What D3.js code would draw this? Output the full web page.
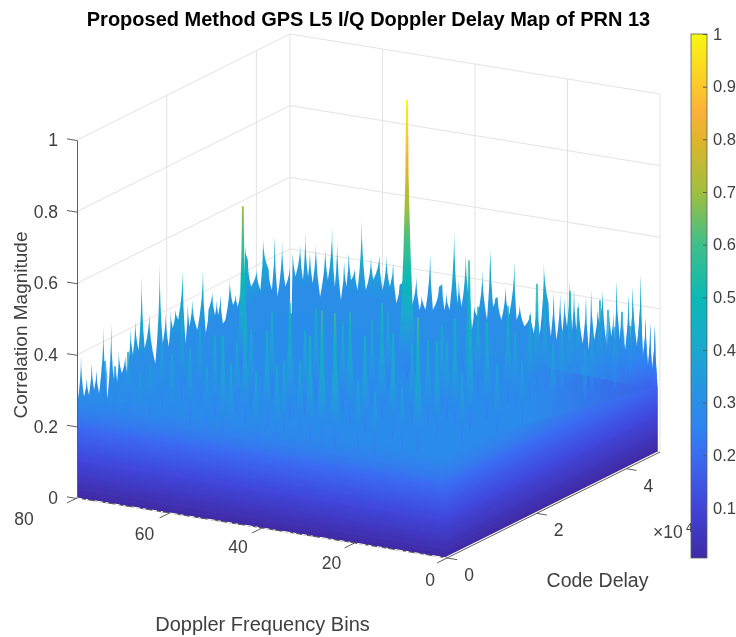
<!DOCTYPE html>
<html>
<head>
<meta charset="utf-8">
<script src="https://cdn.jsdelivr.net/npm/d3@7"></script>
<style>
  body { margin: 0; background: #fff; }
  text { font-family: "Liberation Sans", Arial, sans-serif; fill: #404040; }
</style>
</head>
<body>
<svg id="chart" width="736" height="637"></svg>
<script>
// axis ticks
const binTicks = [0, 20, 40, 60, 80];
const codeTicks = [0, 20, 40];           // thousands of chips, labelled x10^4
const magTicks = [0, 0.2, 0.4, 0.6, 0.8, 1];
const barTicks = [0.1, 0.2, 0.3, 0.4, 0.5, 0.6, 0.7, 0.8, 0.9, 1];

// colour scale
const cmapValues = [0.005, 0.1, 0.2, 0.25, 0.3, 0.4, 0.5, 0.6, 0.7, 0.8, 0.85, 0.9, 1];
const cmapColors = ["#3f2ba6", "#4044d8", "#3a6cf2", "#2f82f0", "#2a8ee8", "#1ba8d0", "#0bb9b5",
  "#3fbf8a", "#a0bf3f", "#dfb52a", "#fbb03a", "#fdc82a", "#f8f810"];

// ridge seen along the back left side (bin 80): code delay, magnitude
const backLeftCode = [0, 0.9, 1.57, 2.17, 2.68, 3.28, 3.81, 4.33, 4.93, 5.9, 6.79, 7.62, 8.14, 8.52, 8.96,
  9.33, 10, 10.76, 11.13, 11.95, 12.47, 13, 13.74, 14.42, 15.09, 16.13, 17.48, 18.45, 19.12, 19.79,
  20.47, 20.91, 21.36, 21.96, 22.56, 23.59, 24.2, 24.72, 25.09, 25.71, 26.85, 28.09, 28.71, 29.33,
  30.15, 30.77, 31.18, 31.49, 32.01, 32.53, 33.15, 34.08, 34.8, 35.42, 35.83, 36.35, 36.76, 37.48,
  38.1, 38.83, 40.07, 40.89, 41.51, 42.75, 43.47, 44.09, 44.71, 45.74, 46.47, 47.5];
const backLeftMag = [0.255, 0.394, 0.273, 0.321, 0.271, 0.356, 0.278, 0.33, 0.262, 0.442, 0.236, 0.44, 0.279,
  0.304, 0.269, 0.351, 0.286, 0.332, 0.279, 0.399, 0.322, 0.416, 0.328, 0.533, 0.324, 0.415, 0.267,
  0.541, 0.313, 0.397, 0.295, 0.39, 0.341, 0.388, 0.357, 0.49, 0.281, 0.39, 0.322, 0.393, 0.302,
  0.462, 0.281, 0.343, 0.388, 0.319, 0.358, 0.315, 0.367, 0.285, 0.295, 0.401, 0.322, 0.346, 0.311,
  0.346, 0.287, 0.468, 0.427, 0.348, 0.387, 0.326, 0.462, 0.371, 0.31, 0.455, 0.284, 0.431, 0.301, 0.355];

// ridge seen along the back right side (code max): doppler bin, magnitude
const backRightBin = [79.4, 78.8, 77.8, 77.2, 76.7, 76.1, 75.7, 75.1, 74.4, 73.5, 72.4, 71.8, 70.9, 70.3, 69.8,
  69, 68.3, 67.8, 67.3, 66.8, 66, 65.4, 64.5, 63.6, 62.5, 62, 60.7, 60, 59.15, 58.4, 57.7, 57, 56.3,
  55.7, 54.5, 53.7, 52.7, 52, 51.5, 50.7, 49.7, 49.1, 47.8, 47.1, 46.6, 46.2, 45.5, 44.5, 43.8, 43.5,
  42.9, 42, 41.5, 41.2, 40.7, 40.2, 39.5, 38.4, 37.4, 36.7, 36.1, 35.6, 35.1, 34.3, 33.4, 32.7, 31.5,
  31, 30.3, 29.3, 28, 27.3, 26.6, 26, 25.1, 24.1, 23.6, 23, 22.4, 21.6, 21.1, 20.7, 20.1, 19.5, 19,
  18.6, 18.1, 17.6, 16.7, 16, 15.4, 14.9, 14.2, 13.5, 13.1, 12.4, 11.5, 10.9, 10.5, 10.1, 9.8, 9.4,
  8.7, 8.3, 7.5, 6.8, 6.4, 5.9, 5, 4.15, 3.7, 3.1, 2.6, 2.1, 1.7, 1.1, 0.55];
const backRightMag = [0.393, 0.325, 0.42, 0.319, 0.455, 0.33, 0.406, 0.314, 0.431, 0.28, 0.422, 0.33, 0.481, 0.314,
  0.451, 0.28, 0.388, 0.32, 0.423, 0.34, 0.375, 0.315, 0.513, 0.319, 0.414, 0.351, 0.423, 0.327, 0.426,
  0.339, 0.406, 0.296, 0.349, 0.359, 0.375, 0.293, 0.379, 0.288, 0.33, 0.291, 0.455, 0.294, 0.361, 0.373,
  0.299, 0.346, 0.301, 0.532, 0.324, 0.389, 0.316, 0.467, 0.356, 0.45, 0.255, 0.322, 0.295, 0.428, 0.291,
  0.51, 0.33, 0.355, 0.36, 0.297, 0.392, 0.309, 0.465, 0.304, 0.347, 0.289, 0.333, 0.274, 0.373, 0.272,
  0.475, 0.365, 0.273, 0.399, 0.266, 0.398, 0.287, 0.386, 0.308, 0.439, 0.301, 0.418, 0.303, 0.388, 0.268,
  0.4, 0.253, 0.421, 0.283, 0.368, 0.332, 0.422, 0.27, 0.36, 0.3, 0.366, 0.292, 0.456, 0.294, 0.374, 0.269,
  0.424, 0.299, 0.449, 0.284, 0.486, 0.258, 0.367, 0.233, 0.355, 0.225, 0.352, 0.181];

// spikes inside the map, the first two are the correlation peaks
const peakBin = [39.3, 66.4, 78.05, 72.66, 67.44, 62.22, 59.28, 54.87, 56.84, 50.62, 47.68, 50.31, 42.95, 45.08,
  38.53, 44.61, 37.08, 34.14, 31.2, 28.09, 33.19, 23.69, 27.46, 19.28, 29.61, 21.26, 16.52, 13.25, 20.47,
  14.08, 19.01, 16.07, 8.36, 11.98, 23.61, 12.49, 5.94, 13.97, 5.14, 14.16, 3.35, 8.78, 1.42, 5.53, 1.44, 1.62,
  74.78, 67.44, 68.76, 68.78, 64.2, 54.89, 54.24, 54.1, 40.67, 43.8, 46.92, 39.24, 36.15, 38.46, 23.08, 23.1,
  22.14, 11.19, 12.02, 12.86, 6.81, 9.12, 3.55, 5.85, 5.21];
const peakCode = [31.61, 22.96, 4.24, 3.81, 3.32, 2.84, 3.82, 3.07, 6.88, 2.25, 1, 6.84, 1.7, 6.35,
  1.83, 10.99, 5.46, 4.66, 4.3, 4, 12.59, 4.58, 10.04, 3.82, 16.04, 9.88, 7, 7.2, 16.87,
  12.29, 19.6, 18.35, 11.97, 17.48, 29.26, 21.79, 17.27, 28.01, 22.02, 34.67, 27.1, 36.48, 32.23, 39.82, 38.95, 42.48,
  3.09, 1.08, 7.36, 11.84, 11.13, 9.78, 12.24, 16.77, 5.6, 13.51, 19.18, 17.28, 20.56, 26.51, 15.99, 22.71,
  29.75, 26.71, 30.91, 35.11, 32.66, 38.61, 36, 41.94, 44.4];
const peakMag = [1, 0.7, 0.36, 0.4, 0.38, 0.42, 0.44, 0.4, 0.46, 0.5, 0.44, 0.52, 0.42, 0.5,
  0.45, 0.55, 0.44, 0.52, 0.6, 0.6, 0.54, 0.42, 0.5, 0.4, 0.55, 0.52, 0.4, 0.6, 0.46,
  0.5, 0.44, 0.52, 0.42, 0.56, 0.6, 0.5, 0.42, 0.5, 0.4, 0.52, 0.42, 0.5, 0.38, 0.46, 0.4, 0.38,
  0.36, 0.37, 0.41, 0.46, 0.44, 0.43, 0.45, 0.47, 0.43, 0.46, 0.48, 0.47, 0.46, 0.44, 0.45, 0.46,
  0.47, 0.44, 0.46, 0.45, 0.42, 0.44, 0.4, 0.42, 0.4];

const binMax = 80, codeMax = 47.5;
const surfBinMin = 0.55;   // surface stops just short of the axis box

const svg = d3.select("#chart");

// projection of the 3d box, one scale per screen direction
const originX = 447, originY = 558;
const binX = d3.scaleLinear().domain([0, binMax]).range([0, -370]);
const binY = d3.scaleLinear().domain([0, binMax]).range([0, -60]);
const codeX = d3.scaleLinear().domain([0, codeMax]).range([0, 213]);
const codeY = d3.scaleLinear().domain([0, codeMax]).range([0, -106]);
const magY = d3.scaleLinear().domain([0, 1]).range([0, -358]);

function project(bin, code, mag) {
  return [originX + binX(bin) + codeX(code), originY + binY(bin) + codeY(code) + magY(mag)];
}

const cmap = d3.scaleLinear().domain(cmapValues).range(cmapColors);
const bodyColor = cmap(0.29);

// ---- gradients
const defs = svg.append("defs");

function magGradient(id) {
  return defs.append("linearGradient").attr("id", id)
    .attr("gradientUnits", "userSpaceOnUse")
    .attr("x1", 0).attr("x2", 0).attr("y1", magY(0)).attr("y2", magY(1));
}

function addStops(grad) {
  cmapValues.forEach((v, i) => {
    grad.append("stop").attr("offset", v).attr("stop-color", cmapColors[i]);
  });
}

addStops(magGradient("magGrad"));

// back ridges: nothing below the body colour shows
const ridgeGrad = magGradient("ridgeGrad");
cmapValues.filter((v) => v >= 0.3).forEach((v) => {
  ridgeGrad.append("stop").attr("offset", v).attr("stop-color", cmap(v));
});

// front faces melt into the body at their top
const faceGrad = magGradient("faceGrad");
cmapValues.filter((v) => v <= 0.2).forEach((v) => {
  faceGrad.append("stop").attr("offset", v).attr("stop-color", cmap(v));
});
faceGrad.append("stop").attr("offset", 0.31).attr("stop-color", bodyColor).attr("stop-opacity", 0);

// body gets darker towards the low right corner
const bodyGrad = defs.append("linearGradient").attr("id", "bodyGrad")
  .attr("gradientUnits", "userSpaceOnUse")
  .attr("x1", 530).attr("x2", 657).attr("y1", 0).attr("y2", 0);
bodyGrad.append("stop").attr("offset", 0).attr("stop-color", bodyColor);
bodyGrad.append("stop").attr("offset", 1).attr("stop-color", cmap(0.17));

const endGrad = defs.append("linearGradient").attr("id", "endGrad")
  .attr("gradientUnits", "userSpaceOnUse")
  .attr("x1", 590).attr("x2", 650).attr("y1", 0).attr("y2", 0);
endGrad.append("stop").attr("offset", 0).attr("stop-color", "#fff").attr("stop-opacity", 0);
endGrad.append("stop").attr("offset", 1).attr("stop-color", "#fff").attr("stop-opacity", 1);
defs.append("mask").attr("id", "endMask")
  .attr("maskUnits", "userSpaceOnUse")
  .attr("x", 0).attr("y", 0).attr("width", 736).attr("height", 637)
  .append("rect").attr("width", 736).attr("height", 637).attr("fill", "url(#endGrad)");

defs.append("filter").attr("id", "soft")
  .attr("x", "-5%").attr("y", "-5%").attr("width", "110%").attr("height", "110%")
  .append("feGaussianBlur").attr("stdDeviation", 0.45);

// ---- grid on the back walls
const grid = svg.append("g").attr("stroke", "#e3e3e3").attr("fill", "none");

function gridLine(a, b) {
  grid.append("path").attr("d", d3.line()([a, b]));
}

magTicks.forEach((m) => {
  gridLine(project(binMax, 0, m), project(binMax, codeMax, m));
  gridLine(project(binMax, codeMax, m), project(0, codeMax, m));
});
codeTicks.concat([codeMax]).filter((c) => c > 0).forEach((c) => {
  gridLine(project(binMax, c, 0), project(binMax, c, 1));
});
binTicks.filter((b) => b < binMax).forEach((b) => {
  gridLine(project(b, codeMax, 0), project(b, codeMax, 1));
});

// ---- surface, painted from the back to the front
const surface = svg.append("g").attr("filter", "url(#soft)");

// the gradient runs in magnitude, so each wall gets a sheared frame
function wall(parent, origin, slope, d, fill) {
  parent.append("path")
    .attr("transform", `matrix(1,${slope},0,1,${origin[0]},${origin[1]})`)
    .attr("d", d)
    .attr("fill", fill);
}

// outline through valleys and peaks, pulled in so the peaks come out as needles
function ridgePath(points, startX, endX) {
  let d = `M${startX},0L${points[0][0]},${points[0][1]}`;
  for (let i = 1; i < points.length; i++) {
    const a = points[i - 1], b = points[i];
    const peak = a[1] < b[1] ? a : b, valley = a[1] < b[1] ? b : a;
    const cy = valley[1] + (peak[1] - valley[1]) * 0.5;
    d += `Q${peak[0]},${cy} ${b[0]},${b[1]}`;
  }
  return d + `L${endX},0Z`;
}

function flatPath(points) {
  return d3.line()(points) + "Z";
}

const codeSlope = codeY(1) / codeX(1);
const binSlope = binY(1) / binX(1);

wall(surface, project(binMax, 0, 0), codeSlope,
  ridgePath(backLeftCode.map((c, i) => [codeX(c), magY(backLeftMag[i])]), codeX(0), codeX(codeMax)),
  "url(#ridgeGrad)");

const rightRidge = ridgePath(backRightBin.map((b, i) => [binX(b), magY(backRightMag[i])]), binX(binMax), binX(surfBinMin));
wall(surface, project(0, codeMax, 0), binSlope, rightRidge, "url(#ridgeGrad)");
// the low end of that ridge keeps its true colours
wall(surface.append("g").attr("mask", "url(#endMask)"), project(0, codeMax, 0), binSlope, rightRidge, "url(#magGrad)");

// flat middle part of the surface
const bodyTop = [project(binMax, 0, 0.2), project(binMax, codeMax, 0.22),
  project(surfBinMin, codeMax, 0.17), project(surfBinMin, 0, 0.15)];
surface.append("path")
  .attr("d", flatPath(bodyTop))
  .attr("fill", "url(#bodyGrad)");

// front faces, top edge follows the ridge height at the corners
wall(surface, project(surfBinMin, 0, 0), codeSlope, flatPath([[codeX(0), 0], [codeX(codeMax), 0],
  [codeX(codeMax), magY(0.18)], [codeX(0), magY(0.31)]]), "url(#faceGrad)");

wall(surface, project(0, 0, 0), binSlope, flatPath([[binX(binMax), 0], [binX(0.2), 0],
  [binX(0.2), magY(0.31)], [binX(binMax), magY(0.29)]]), "url(#faceGrad)");

const peaks = peakBin.map((b, i) => ({ bin: b, code: peakCode[i], mag: peakMag[i], main: i < 2 }));
peaks.sort((a, b) => project(a.bin, a.code, 0)[1] - project(b.bin, b.code, 0)[1]);

const spikeWidth = d3.scaleLinear().domain([0.3, 1]).range([3.5, 15]);

surface.selectAll(".spike")
  .data(peaks)
  .join("path")
  .attr("class", "spike")
  .attr("transform", (d) => {
    const p = project(d.bin, d.code, 0);
    return `translate(${p[0]},${p[1]})`;
  })
  .attr("fill", "url(#magGrad)")
  .attr("opacity", (d) => (d.main ? 1 : 0.8))
  .attr("d", (d) => {
    const w = spikeWidth(d.mag) / 2;
    const top = magY(d.mag), foot = magY(0.22), belly = magY(0.32);
    const mid = (top + belly) / 2;
    return `M0,${foot}Q${-w},${belly * 0.9} ${-w},${belly}Q${-1},${mid} ${-0.9},${top}` +
      `L0.9,${top}Q1,${mid} ${w},${belly}Q${w},${belly * 0.9} 0,${foot}Z`;
  });

// ---- axes
const axisColor = "#5c5c5c";
const labelSize = 17.5;

// z axis on the left corner, ticks lean along the bin direction
const zScale = d3.scaleLinear().domain([0, 1]).range([project(binMax, 0, 0)[1], project(binMax, 0, 1)[1]]);
const zAxis = svg.append("g")
  .attr("transform", `translate(${project(binMax, 0, 0)[0]},0)`)
  .call(d3.axisLeft(zScale).tickValues(magTicks).tickSize(10).tickSizeOuter(0).tickPadding(9)
    .tickFormat((d) => String(d)));
zAxis.select(".domain").attr("stroke", axisColor);
zAxis.selectAll(".tick line").attr("stroke", axisColor).attr("y2", -1.6);
zAxis.selectAll(".tick text").attr("font-size", labelSize).attr("fill", "#404040")
  .attr("font-family", "Liberation Sans");

// floor edges
const floorAxis = svg.append("g").attr("fill", "none");
floorAxis.append("path").attr("stroke", axisColor)
  .attr("d", d3.line()([project(binMax, 0, 0), project(0, 0, 0), project(0, codeMax, 0)]));
floorAxis.append("path").attr("stroke", "#fff").attr("stroke-dasharray", "5 4 2 7 8 3 3 6")
  .attr("d", d3.line()([project(binMax, 0, 0), project(0, 0, 0)]));

floorAxis.selectAll(".binTick")
  .data(binTicks)
  .join("path")
  .attr("class", "binTick")
  .attr("stroke", axisColor)
  .attr("d", (b) => d3.line()([project(b, 0, 0), project(b, -2.2, 0)]));

floorAxis.selectAll(".codeTick")
  .data(codeTicks)
  .join("path")
  .attr("class", "codeTick")
  .attr("stroke", axisColor)
  .attr("d", (c) => d3.line()([project(0, c, 0), project(-2.2, c, 0)]));

const binLabelShift = { 0: [-17, 22], 20: [-23, 20], 40: [-24, 19], 60: [-25, 21], 80: [-53, 21] };
svg.selectAll(".binLabel")
  .data(binTicks)
  .join("text")
  .attr("class", "binLabel")
  .attr("x", (b) => project(b, 0, 0)[0] + binLabelShift[b][0])
  .attr("y", (b) => project(b, 0, 0)[1] + binLabelShift[b][1])
  .attr("dy", "0.35em")
  .attr("text-anchor", "middle")
  .attr("font-size", labelSize)
  .text((b) => b);

svg.selectAll(".codeLabel")
  .data(codeTicks)
  .join("text")
  .attr("class", "codeLabel")
  .attr("x", (c) => project(0, c, 0)[0] + 22)
  .attr("y", (c) => project(0, c, 0)[1] + 17)
  .attr("dy", "0.35em")
  .attr("text-anchor", "middle")
  .attr("font-size", labelSize)
  .text((c) => c / 10);

// exponent, the colorbar covers part of it
const expo = svg.append("text").attr("x", 653).attr("y", 538).attr("font-size", labelSize);
expo.append("tspan").text("×10");
svg.append("text").attr("x", 686).attr("y", 532).attr("font-size", 12).text("4");

// ---- colorbar
const barLeft = 691, barWidth = 16, barTop = 34, barBottom = 558;
const barScale = d3.scaleLinear().domain([0.005, 1]).range([barBottom, barTop]);

addStops(defs.append("linearGradient").attr("id", "barGrad")
  .attr("gradientUnits", "userSpaceOnUse")
  .attr("x1", 0).attr("x2", 0).attr("y1", barScale(0)).attr("y2", barScale(1)));

svg.append("rect")
  .attr("x", barLeft).attr("y", barTop)
  .attr("width", barWidth).attr("height", barBottom - barTop)
  .attr("fill", "url(#barGrad)")
  .attr("stroke", axisColor).attr("stroke-width", 0.8);

const barAxis = svg.append("g")
  .attr("transform", `translate(${barLeft + barWidth},0)`)
  .call(d3.axisRight(barScale).tickValues(barTicks).tickSize(-4).tickSizeOuter(0).tickPadding(6)
    .tickFormat((d) => String(d)));
barAxis.select(".domain").remove();
barAxis.selectAll(".tick line").attr("stroke", axisColor);
barAxis.selectAll(".tick text").attr("font-size", 16.5).attr("fill", "#404040")
  .attr("font-family", "Liberation Sans");

// ---- titles
svg.append("text")
  .attr("x", 368.5).attr("y", 26)
  .attr("text-anchor", "middle")
  .attr("font-size", 20)
  .attr("font-weight", "bold")
  .style("fill", "#000")
  .text("Proposed Method GPS L5 I/Q Doppler Delay Map of PRN 13");

svg.append("text")
  .attr("transform", "translate(27,325) rotate(-90)")
  .attr("text-anchor", "middle")
  .attr("font-size", 19)
  .text("Correlation Magnitude");

svg.append("text")
  .attr("x", 262.5).attr("y", 631)
  .attr("text-anchor", "middle")
  .attr("font-size", 20)
  .text("Doppler Frequency Bins");

svg.append("text")
  .attr("x", 597.5).attr("y", 587)
  .attr("text-anchor", "middle")
  .attr("font-size", 19.5)
  .text("Code Delay");
</script>
</body>
</html>
